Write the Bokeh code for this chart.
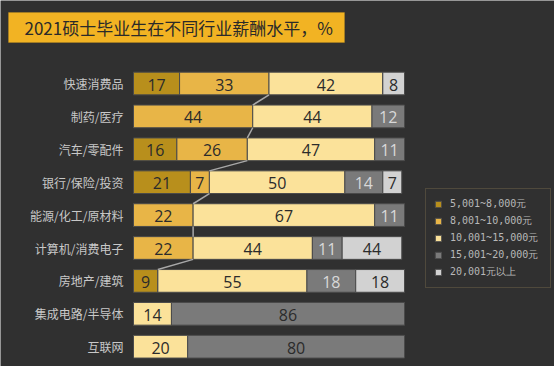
import numpy as np
import pandas as pd
from bokeh.plotting import figure
from bokeh.models import ColumnDataSource, Range1d, BoxAnnotation, Label, Legend, LegendItem
from bokeh.core.properties import value
from bokeh.embed import file_html
from bokeh.resources import INLINE

title_text = "2021硕士毕业生在不同行业薪酬水平，%"
categories = ["快速消费品", "制药/医疗", "汽车/零配件", "银行/保险/投资", "能源/化工/原材料",
              "计算机/消费电子", "房地产/建筑", "集成电路/半导体", "互联网"]
series_names = ["5,001~8,000元", "8,001~10,000元", "10,001~15,000元", "15,001~20,000元", "20,001元以上"]
s1 = [17, 0, 16, 21, 0, 0, 9, 0, 0]
s2 = [33, 44, 26, 7, 22, 22, 0, 0, 0]
s3 = [42, 44, 47, 50, 67, 44, 55, 14, 20]
s4 = [0, 12, 11, 14, 11, 11, 18, 86, 80]
s5 = [8, 0, 0, 7, 0, 22, 18, 0, 0]
# printed labels (the source prints "44" on the last segment of 计算机/消费电子)
s5_labels = ["8", "", "", "7", "", "44", "18", "", ""]
colors = ["#B88F1C", "#E8B547", "#FBE29A", "#7A7A7A", "#D2D2D2"]
text_colors = ["#2b2b2b", "#2b2b2b", "#2b2b2b", "#d8d8d8", "#2b2b2b"]

BG = "#303030"
W, H = 554, 366

series = [s1, s2, s3, s4, s5]
keys = ["s1", "s2", "s3", "s4", "s5"]
df = pd.DataFrame({k: v for k, v in zip(keys, series)})
df["row"] = np.arange(len(categories))
src = ColumnDataSource(df)

# x: value 0 at 133px, 100 at 404px ; y: row 0 at 83px, spacing 32.9px
pxu = 2.71
x0px = 133
ypx0, ypitch = 83, 32.9
p = figure(width=W, height=H, output_backend="svg", toolbar_location=None,
           x_range=Range1d(-x0px / pxu, (W - x0px) / pxu),
           y_range=Range1d((H - ypx0) / ypitch, -ypx0 / ypitch),
           min_border=0, background_fill_color=BG, border_fill_color=BG,
           outline_line_color=None)
p.xaxis.visible = False
p.yaxis.visible = False
p.xgrid.visible = False
p.ygrid.visible = False

renderers = p.hbar_stack(keys, y="row", height=0.69, color=colors, source=src,
                         line_color="#4a4a4a", line_width=1)

# connector lines between end of second series in consecutive rows
cum2 = np.array(s1) + np.array(s2)
xs, ys = [], []
for i in range(len(categories) - 1):
    if cum2[i + 1] > 0:
        xs.append([cum2[i], cum2[i + 1]])
        ys.append([i + 0.345, i + 1 - 0.345])
p.multi_line(xs, ys, line_color="#A8A8A8", line_width=1.5)

# segment labels
lx, ly, lt, lc = [], [], [], []
cum = np.zeros(len(categories))
for si, (vals, k) in enumerate(zip(series, keys)):
    vals = np.array(vals)
    for i, v in enumerate(vals):
        if v > 0:
            lx.append(cum[i] + v / 2)
            ly.append(i)
            if si == 4:
                lt.append(s5_labels[i])
            else:
                lt.append(str(v))
            if si == 3 and v > 50:
                lc.append("#2b2b2b")
            else:
                lc.append(text_colors[si])
    cum += vals
p.text(x=lx, y=ly, text=lt, text_color=lc, text_align="center", text_baseline="middle",
       text_font=value("Open Sans"), text_font_size="16px", y_offset=1)

# category labels
p.text(x=[-10 / pxu] * len(categories), y=list(range(len(categories))), text=categories,
       text_color="#C8C8C8", text_align="right", text_baseline="middle",
       text_font=value("Noto Sans CJK SC"), text_font_size="12px")

# title box
p.add_layout(BoxAnnotation(left=8, right=344, top=H - 12, bottom=H - 42,
                           left_units="screen", right_units="screen",
                           top_units="screen", bottom_units="screen",
                           fill_color="#F2B323", fill_alpha=1,
                           line_color="#C9961C", line_width=1))
p.add_layout(Label(x=24, y=H - 27, x_units="screen", y_units="screen", text=title_text,
                   text_font="Noto Sans CJK SC", text_font_size="17px",
                   text_color="#2a2a2a", text_baseline="middle"))

legend = Legend(items=[LegendItem(label=n, renderers=[r]) for n, r in zip(series_names, renderers)],
                location=(425, 78), orientation="vertical",
                background_fill_color=BG, background_fill_alpha=1,
                border_line_color="#6E6148", border_line_width=1.5,
                label_text_font="DejaVu Sans Mono", label_text_font_size="10px",
                label_text_color="#B8B8B8", glyph_width=8, glyph_height=8,
                label_height=10, label_width=92, spacing=3, padding=8, margin=0,
                label_standoff=8)
p.add_layout(legend, "center")

open("out.html", "w").write(file_html(p, INLINE))
